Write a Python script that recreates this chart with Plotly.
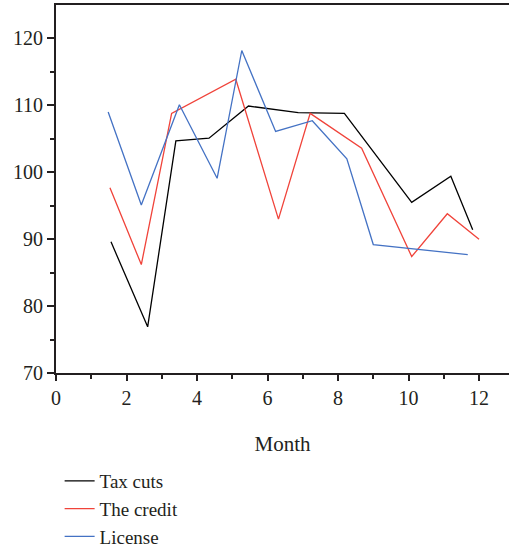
import plotly.graph_objects as go

tax_x = [1.56, 2.6, 3.4, 4.34, 5.46, 6.87, 8.18, 10.09, 11.2, 11.82]
tax_y = [89.6, 76.9, 104.7, 105.1, 109.9, 108.9, 108.8, 95.5, 99.4, 91.4]

credit_x = [1.53, 2.42, 3.28, 5.1, 6.31, 7.21, 8.67, 10.09, 11.1, 12.0]
credit_y = [97.7, 86.2, 108.8, 113.9, 93.0, 108.8, 103.6, 87.4, 93.8, 90.0]

license_x = [1.48, 2.42, 3.5, 4.57, 5.27, 6.23, 7.27, 8.25, 9.0, 11.68]
license_y = [109.0, 95.1, 110.1, 99.1, 118.2, 106.1, 107.7, 102.0, 89.2, 87.7]

series = [
    ("Tax cuts", tax_x, tax_y, "#000000"),
    ("The credit", credit_x, credit_y, "#f0433a"),
    ("License", license_x, license_y, "#4472c4"),
]

FONT = "Liberation Serif"
TXT = "#231f20"

fig = go.Figure()
for name, xs, ys, col in series:
    fig.add_trace(go.Scatter(x=xs, y=ys, mode="lines", name=name,
                             line=dict(color=col, width=1.3)))

fig.update_layout(
    width=509, height=550,
    margin=dict(l=56, r=0, t=5, b=177, autoexpand=False),
    plot_bgcolor="white", paper_bgcolor="white",
    font=dict(family=FONT, size=20, color=TXT),
    showlegend=True,
    legend=dict(x=0.008, xanchor="left", y=-0.242, yanchor="top",
                font=dict(family=FONT, size=19, color=TXT),
                bgcolor="rgba(0,0,0,0)", tracegroupgap=0, itemwidth=30),
    xaxis=dict(range=[0, 12.85], tickvals=[0, 2, 4, 6, 8, 10, 12],
               automargin=False,
               showgrid=False, zeroline=False,
               showline=True, linecolor=TXT, linewidth=2, mirror=True,
               ticks="outside", ticklen=6, tickcolor=TXT, tickwidth=1.5,
               minor=dict(tickvals=[1, 3, 5, 7, 9, 11], ticks="outside",
                          ticklen=4, tickcolor=TXT, tickwidth=1.5),
               title=dict(text="Month", standoff=28,
                          font=dict(family=FONT, size=21, color=TXT))),
    yaxis=dict(range=[70, 125], tickvals=[70, 80, 90, 100, 110, 120],
               automargin=False,
               showgrid=False, zeroline=False,
               showline=True, linecolor=TXT, linewidth=2, mirror=False,
               ticks="outside", ticklen=7, tickcolor=TXT, tickwidth=1.5,
               minor=dict(tickvals=[75, 85, 95, 105, 115], ticks="outside",
                          ticklen=4, tickcolor=TXT, tickwidth=1.5)),
)

fig.write_html("out.html", config={"displayModeBar": False},
               post_script="document.body.style.margin='0';document.body.style.overflow='hidden';")
